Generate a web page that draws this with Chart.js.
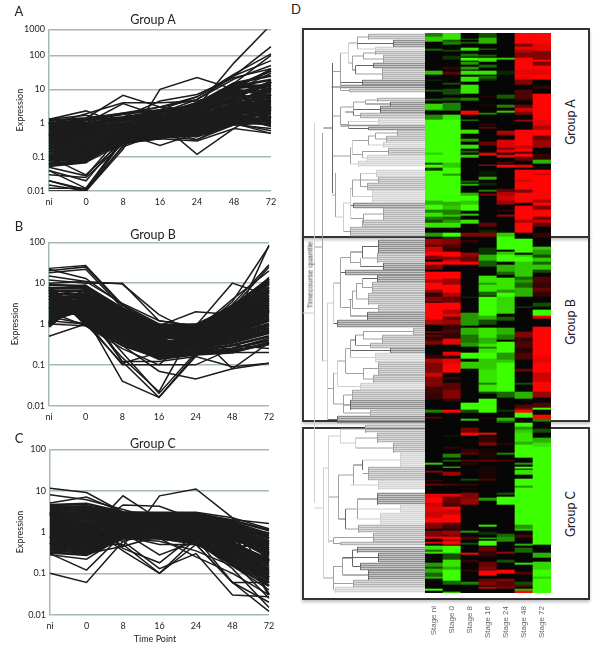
<!DOCTYPE html>
<html lang="en">
<head>
<meta charset="UTF-8">
<title>Expression groups and heatmap</title>
<script src="https://cdn.jsdelivr.net/npm/chart.js"></script>
<style>
    body { margin: 0; background: #fff; }
    #page { position: relative; width: 600px; height: 649px; overflow: hidden; font-family: Lato, sans-serif; color: #222; }
    canvas { position: absolute; }
    .letter { position: absolute; font-size: 13px; line-height: 13px; white-space: nowrap; transform: translate(-50%, -50%); }
    .box { position: absolute; border: 2px solid #333; box-sizing: border-box; box-shadow: 0 2px 3px rgba(0,0,0,0.25); }
    .turned { position: absolute; white-space: nowrap; font-size: 12.5px; transform: translate(-50%, -50%) rotate(-90deg); }
</style>
</head>
<body>
<div id="page">
    <div class="box" style="left:302px;top:28px;width:288px;height:210px"></div>
    <div class="box" style="left:302px;top:236px;width:288px;height:186px"></div>
    <div class="box" style="left:302px;top:427px;width:288px;height:173px"></div>
    <canvas id="chartA" width="290" height="212" style="left:0;top:0"></canvas>
    <canvas id="chartB" width="290" height="200" style="left:0;top:225px"></canvas>
    <canvas id="chartC" width="290" height="214" style="left:0;top:435px"></canvas>
    <canvas id="tree" width="125" height="560" style="left:300px;top:33px"></canvas>
    <canvas id="heat" width="126" height="616" style="left:425px;top:33px"></canvas>
    <div class="letter" style="left:19px;top:11px">A</div>
    <div class="letter" style="left:19px;top:226px">B</div>
    <div class="letter" style="left:19px;top:438px">C</div>
    <div class="letter" style="left:296px;top:9px">D</div>
    <div class="letter" style="left:153px;top:19px;font-size:12.5px">Group A</div>
    <div class="letter" style="left:153px;top:234px;font-size:12.5px">Group B</div>
    <div class="letter" style="left:153px;top:443px;font-size:12.5px">Group C</div>
    <div class="letter" style="left:155px;top:638px;font-size:9px">Time Point</div>
    <div class="turned" style="left:570px;top:122px">Group A</div>
    <div class="turned" style="left:570px;top:322px">Group B</div>
    <div class="turned" style="left:570px;top:514px">Group C</div>
    <div class="turned" style="left:310px;top:275px;font-family:'Liberation Sans';font-size:7.5px;color:#444">Timecourse quantile</div>
</div>

<script>
// time points on the x axis of the three line panels
const timePoints = ['ni', '0', '8', '16', '24', '48', '72'];

// one row per gene: ni, 0, 8, 16, 24, 48, 72. The first rows of each group are the outliers
const groupA = [
    [1.3,1.7,1.1,.8,1.2,3,9],[1.3,2.3,.9,1.3,2,5,18],[.9,1.9,4,4,4.5,9,30],[.5,1.4,6.6,3,2.5,6,15],
    [.7,1,3.8,1.6,1.5,4,12],[.02,.01,.17,10,22,10,40],[.6,.9,1.5,1,.12,.7,3],[.8,.5,.5,.22,.5,1,.6],
    [.1,.03,.3,.35,.3,.7,.5],[.02,.011,.2,.5,.4,1,.5],[.01,.01,.3,.4,.33,.9,.7],[.015,.01,.22,.6,1,1.5,.8],
    [.04,.02,.4,.8,1.5,3,1.2],[.03,.025,.25,.7,.32,1.2,2],[.012,.012,.35,.9,2,5,3],[.04,.012,.3,.6,1,2,1],
    [.05,.028,.5,1,1.5,3,5],[.1,.07,.25,.45,.4,.9,1],[.4,.8,1,1.5,3,60,800],[.6,1,1.3,2.5,6,25,180],
    [.3,.6,.9,2,5,25,70],[.8,1.2,1.8,3,6,28,110],[.5,.7,1,2,4,15,100],[1,1.3,2,3,5,20,50],[.7,.9,1.5,4.5,7,22,40],
    [1.2,1.4,1.9,2.4,3.2,12,19],[1.1,.6,.8,1.3,2.6,9,8],[1,1.2,1.5,2.2,2.8,7,16],[.95,.5,.6,.9,1.4,3,4],
    [.9,1,1.4,2,3.6,14,12],[.85,.4,.5,.7,.9,2,2.2],[.8,.9,1.2,1.7,2.2,5,7],[.75,.35,.45,.6,.7,1.5,1.3],
    [.7,.8,1,1.5,2,4.5,10],[.65,.3,.42,.55,.65,1.3,1.1],[.6,.7,.95,1.3,1.8,6,14],[.55,.25,.38,.5,.6,1.2,.9],
    [.5,.62,.85,1.2,1.6,3.8,6],[.45,.22,.36,.48,.55,1.1,3],[.42,.55,.8,1.1,1.5,3.2,5],[.38,.2,.34,.46,.5,1,1.6],
    [.35,.5,.75,1,1.3,2.8,4.5],[.32,.18,.32,.42,.48,.95,1.2],[.3,.45,.7,.95,1.2,2.5,3.8],[.27,.16,.3,.4,.46,1.05,2.5],
    [.25,.4,.65,.9,1.1,2.2,3.2],[.23,.14,.3,.38,.44,1.4,2],[.21,.36,.6,.85,1,2,2.8],[.19,.12,.28,.37,.5,1.7,7],
    [.17,.33,.55,.8,.95,1.8,2.4],[.15,.11,.27,.36,.6,2.4,11],[.14,.3,.52,.75,.9,1.6,1.9],[.12,.1,.26,.36,.7,2.7,1.5],
    [.11,.27,.48,.7,.85,1.5,17],[.1,.09,.26,.4,.8,3,1.4],[.09,.24,.45,.65,.8,3.5,2.2],[.08,.08,.3,.45,1.2,4,2.6],
    [.075,.2,.42,.6,.75,4.2,3],[.065,.075,.35,.5,1.7,5.5,4.2],[.06,.17,.4,.55,1,6.5,5.5],[.055,.07,.5,.68,1.9,8,9],
    [.5,.15,.65,.8,2.4,10,6.5],[1.05,.13,.9,1.6,3,11,13],[.7,.8,1.3,2,3.5,15,25],[.4,.6,.8,1.6,4,12,35]
];
const groupB = [
    [23,27,3,.6,.5,.9,3],[20,25,2.8,.9,.6,1.5,5],[22,13,3,1,.5,.8,2],[18,22,2.5,.7,.8,1,4],[15,11,3.2,1.2,.9,.7,6],
    [12,10,10,1.2,.9,1.5,8],[10,11,9.5,1.7,.6,.5,1.5],[.5,1,.5,.2,.3,.5,1],[5,2,.12,.016,.18,.6,2],[8,2,.2,.02,.2,.8,3],
    [3,1.5,.04,.016,.16,1,4],[4,1.2,.1,.1,.1,.25,.45],[2,.9,.3,.07,.045,.08,.11],[6,3,.12,.12,.16,.09,.11],
    [1.5,1,.11,.2,.5,.2,.2],[1,.9,.25,.1,.6,.08,.35],[2.5,1.5,.15,.022,.9,.3,.25],[1.2,1,.5,.9,2,1.7,.7],
    [3,4,1.2,.4,.9,10,5],[2,3,.6,.5,.6,3.5,80],[4,5,.9,.4,.3,.9,85],[2.2,2.5,.8,.7,.6,3,28],[5,7,1.5,.5,.4,2.5,25],
    [1.5,2,1,.5,.7,4,20],[7,9,1.8,.8,1,1.5,14],
    [9,8.5,2.4,.95,.95,2.6,13],[8,.95,.3,.15,.2,.25,.4],[7.5,7.5,2.2,.9,.9,2.2,11],[7,1,.35,.16,.22,.3,.5],
    [6.5,6.5,2,.85,.85,2,9.5],[6,1.1,.4,.17,.25,.35,.6],[5.5,5.5,1.9,.8,.8,1.8,8],[5,1.2,.45,.18,.26,.4,.7],
    [4.5,5,1.8,.75,.75,1.6,7],[4.2,1.3,.5,.19,.28,.45,.8],[3.8,4.5,1.7,.7,.7,1.5,6],[3.5,1.4,.55,.2,.3,.5,.9],
    [3.2,4,1.6,.65,.65,1.4,5],[3,1.5,.6,.22,.32,.55,1],[2.8,3.6,1.5,.6,.6,1.3,4.4],[2.6,1.6,.65,.24,.34,.6,1.2],
    [2.4,3.3,1.4,.58,.58,1.2,3.8],[2.2,1.7,.7,.26,.36,.65,1.4],[2.1,3,1.3,.55,.55,1.1,3.4],[2,1.8,.75,.28,.38,.7,1.6],
    [1.9,2.8,1.25,.52,.52,1.05,3],[1.8,1.9,.8,.3,.4,.75,1.8],[1.7,2.6,1.2,.5,.5,1,2.7],[1.6,2,.85,.32,.42,.8,2],
    [1.5,2.4,1.15,.48,.48,.95,2.5],[1.4,2.1,.9,.34,.44,.85,2.2],[1.3,2.2,1.1,.46,.46,.9,2.3],[1.2,2.3,.95,.36,.45,.88,2.1],
    [1.15,2.7,1.05,.44,.7,1.9,4],[1.1,3.1,1,.38,.75,2.1,6.5],[1,3.5,.9,.42,.8,2.4,10],[.95,3.9,.85,.4,.85,2.8,12],
    [.9,4.6,.6,.3,.5,.6,1.3],[.85,5.2,.5,.25,.35,.4,.65],[1.05,6,.42,.15,.2,.22,.32],[2.3,7,.35,.14,.18,.2,.35]
];
const groupC = [
    [11.5,9,3,1.5,1,.8,.4],[8,6,3.5,2,1.5,1,.6],[5,7,3,3,3,2.2,1.2],[.1,.06,.6,1,1.5,.4,.1],[.3,.12,.9,1.5,1,.5,.2],
    [1,.9,7.5,2,2.5,1,.5],[1.5,1,4.5,4.2,2,1,.3],[.8,.3,.45,7.5,11,2.2,.06],[3,2,.45,.8,2,2,1.6],[2,2,.4,.18,.9,.3,.05],
    [2.5,1.5,.35,.1,.5,.06,.06],[1,1,.6,.13,.3,.03,.027],[.9,.5,.5,.1,.7,.06,.012],[.6,.4,1,.28,.6,.13,.015],
    [1.5,1,.8,.5,.5,.06,.02],[4,3,1.5,.7,.25,.1,.03],[.3,.3,.7,.6,.35,.15,.04],[.28,.22,.8,.7,.5,.2,.025],
    [4.5,4.8,3,2.8,2.8,1.9,1.1],[.32,.28,.7,.7,.55,.16,.05],[4,4.2,2.8,2.6,2.6,1.7,.9],[.36,.32,.75,.75,.6,.18,.06],
    [3.6,3.8,2.6,2.4,2.4,1.5,.8],[.4,.36,.8,.8,.65,.2,.07],[3.2,3.4,2.4,2.2,2.2,1.4,.7],[.45,.4,.85,.85,.7,.22,.08],
    [2.9,3,2.3,2.1,2.1,1.3,.6],[.5,.45,.9,.9,.75,.25,.09],[2.6,2.7,2.2,2,2,1.2,.55],[.55,.5,.95,.95,.8,.28,.1],
    [2.4,2.4,2.1,1.9,1.9,1.1,.5],[.6,.55,1,1,.85,.3,.11],[2.2,2.2,2,1.8,1.8,1,.45],[.65,.6,1.05,1.05,.9,.33,.12],
    [2,2,1.9,1.7,1.7,.95,.4],[.7,.65,1.1,1.1,.95,.36,.13],[1.85,1.8,1.8,1.6,1.6,.9,.36],[.75,.7,1.15,1.15,1,.4,.15],
    [1.7,1.65,1.7,1.55,1.5,.85,.32],[.8,.75,1.2,1.2,1.05,.44,.17],[1.6,1.5,1.6,1.5,1.45,.8,.28],[.85,.8,1.25,1.25,1.1,.48,.19],
    [1.5,1.4,1.5,1.45,1.4,.75,.25],[.9,.85,1.3,1.3,1.15,.52,.22],[1.4,1.3,1.45,1.4,1.35,.7,.3],[.95,.9,1.35,1.35,1.2,.56,.2],
    [1.3,1.2,1.4,1.38,1.3,.65,.4],[1,.95,1.38,1.32,1.25,.6,.5],[1.2,1.1,1.2,1.5,1.5,1.6,.7],[1.1,1,1.1,.7,.6,1.3,.9],
    [3,.5,.9,2,2.5,.5,.08],[.5,2.5,2,.9,1.9,.4,.6],[.7,3.5,1,1.8,.8,1,.03],[2.7,.35,1.6,1.2,2.3,1.8,.2]
];

// y ticks. panel A's top gridline sits closer to 100 than one decade in the picture
const ticksA = [0.01, 0.1, 1, 10, 100, 586];
const tickLabelsA = ['0.01', '0.1', '1', '10', '100', '1000'];
const ticksBC = [0.01, 0.1, 1, 10, 100];
const tickLabelsBC = ['0.01', '0.1', '1', '10', '100'];

// heatmap columns as [first row, level]; a run lasts until the next one. +1 red, -1 green, 0 black
const heatStages = ['Stage ni', 'Stage 0', 'Stage 8', 'Stage 16', 'Stage 24', 'Stage 48', 'Stage 72'];
const heatRows = 560;
const stageNi = [[0,-.5],[4,-.8],[9,0],[16,-.4],[18,0],[38,-.75],[42,0],[47,-.2],[48,0],[57,-.35],[59,0],[66,-.35],[68,0],[71,-.85],[77,-.5],[78,0],[82,-.55],[87,-1],[120,-.8],[122,-1],[130,-.3],[132,-1],[135,-.2],[138,-1],[168,-.7],[172,-1],[177,-.5],[180,-.9],[184,-.5],
    [187,-.3],[190,-.9],[195,0],[200,-.6],[204,0],[206,.6],[212,.3],[214,.8],[219,1],[223,.5],[227,0],[229,1],[232,.5],[237,0],[239,1],[247,.7],[250,1],[257,.6],[260,.2],[264,.5],[269,0],[270,1],[287,.7],[292,0],[299,.7],[300,0],[302,.4],[304,.2],[308,.5],[312,0],[322,.2],[326,.7],[330,.5],[340,.8],[344,.5],[354,.25],[360,.2],[367,0],
    [377,-.5],[380,0],[384,.3],[386,0],[430,-.8],[432,0],[438,.5],[440,0],[447,.2],[449,0],[451,.4],[453,0],[461,.9],[465,1],[470,.8],[474,.9],[479,.8],[485,1],[490,.5],[496,0],[498,.5],[504,1],[506,0],[509,.9],[511,0],[513,-.9],[517,-.4],[519,-.9],[521,0],[530,-.6],[534,-.3],[536,-.7],[540,-.4],[544,-.7],[546,0],[556,-1],[558,0]];
const stage0 = [[0,-.9],[7,-.35],[9,-.5],[12,0],[17,-.25],[19,0],[23,-.2],[27,0],[34,.2],[37,0],[39,.35],[42,0],[50,-.3],[52,0],[56,-.3],[62,0],[65,-.3],[68,0],[70,-.5],[78,0],[82,-.9],[87,-1],[130,-.8],[135,-1],[141,-.6],[143,-1],[169,-.7],[173,-.8],[177,-.5],[182,-.8],[184,-.4],
    [187,-.6],[190,-.9],[195,0],[200,-1],[204,-.2],[206,.5],[212,.3],[215,.2],[219,1],[224,.5],[227,.8],[229,1],[232,0],[239,1],[246,.6],[252,1],[260,.7],[264,.4],[270,1],[277,.7],[281,.9],[284,.4],[287,.6],[292,.2],[297,.3],[300,.2],[306,.9],[312,0],[319,.9],[323,.2],[326,.9],[331,1],[340,0],[344,.2],[347,0],[350,.35],[357,.5],[366,.2],[369,0],
    [377,1],[380,0],[403,-.15],[404,0],[414,.2],[416,0],[421,-.5],[425,0],[427,-.35],[429,0],[434,-.9],[435,0],[439,.6],[443,0],[451,.3],[453,0],[461,.9],[464,.4],[470,.3],[474,1],[477,.8],[482,1],[490,.3],[495,.2],[498,.6],[502,.4],[504,1],[507,.5],[508,1],[512,0],[513,-1],[520,-.7],[521,-.3],[527,-.9],[534,-.7],[537,-1],[548,-.4],[552,0],[559,-.8]];
const stage8 = [[0,0],[6,-.4],[7,0],[9,-.35],[11,0],[15,-.9],[18,0],[21,-.45],[24,0],[25,-1],[28,0],[29,-.6],[32,0],[34,-.6],[37,0],[38,-.9],[42,0],[44,-.9],[49,0],[52,-.9],[61,0],[65,-.5],[68,0],[78,1],[82,0],[87,-.6],[88,0],[97,-.9],[101,0],[106,-.6],[109,0],[112,-.9],[116,0],[118,-.4],[120,0],[122,-.8],[125,0],[148,-.4],[150,0],[151,-.7],[153,0],[160,-.7],[163,-1],[168,-.8],[172,-1],[178,0],[181,-.8],[183,0],
    [187,-.9],[191,0],[200,.5],[204,0],[207,.2],[210,0],[220,.6],[224,.4],[229,1],[232,0],[264,-.2],[265,0],[280,-.6],[293,0],[295,-.7],[302,-.45],[310,-.6],[314,0],[320,-1],[326,0],[329,-.8],[336,0],[370,-1],
    [377,-.3],[380,0],[386,-.8],[388,0],[395,.45],[400,1],[403,0],[408,.15],[409,0],[416,.2],[420,.4],[422,0],[427,.35],[429,0],[430,.2],[432,0],[446,-.3],[448,0],[451,.2],[453,0],[455,.1],[457,0],[460,.5],[466,.6],[472,0],[498,-.6],[500,0],[504,.3],[507,0],[510,-.3],[512,0],[520,1],[522,0],[527,.2],[530,0],[537,.2],[539,0],[549,-.5],[552,0]];
const stage16 = [[0,-.3],[5,-.7],[11,0],[16,-.5],[17,0],[22,-.35],[24,0],[25,-.9],[29,0],[32,-.4],[35,0],[38,-.9],[42,0],[43,-.4],[46,-.2],[48,0],[63,.15],[65,0],[72,.2],[73,0],[80,-.5],[82,0],[91,.2],[93,0],[94,.35],[96,0],[109,.4],[113,0],[120,.9],[123,0],[132,.8],[133,0],[138,-.1],[143,0],[144,-.7],[147,0],[150,-.15],[153,0],[157,-.5],[159,0],[161,.5],[163,0],
    [190,.4],[194,0],[197,-.15],[200,.5],[204,0],[215,-.2],[222,-.7],[228,-.35],[234,0],[243,-.9],[250,-.6],[252,-.9],[259,-.4],[263,0],[264,-1],[283,-.7],[287,-.3],[292,0],[295,-.9],[305,-.7],[311,-.9],[314,-.5],[316,-.9],[320,-1],[326,-.8],[337,-.9],[350,-.5],[352,-.9],[359,-.3],[361,0],[366,-1],
    [380,0],[384,.1],[387,0],[400,1],[402,0],[404,.2],[409,.3],[410,.5],[413,0],[416,.1],[427,.4],[429,0],[434,.1],[446,.3],[448,0],[465,-.6],[468,0],[492,-.9],[494,0],[499,-.2],[502,0],[505,-.9],[506,0],[508,-1],[513,0],[514,.4],[519,.2],[524,0],[529,.4],[534,.5],[538,1],[543,0],[546,.4],[549,.5],[553,0],[554,.8],[556,0]];
const stage24 = [[0,0],[25,-.8],[27,0],[38,-.15],[42,0],[62,-.35],[66,0],[72,-.5],[75,0],[78,-.8],[80,0],[98,.7],[102,.4],[103,0],[107,.85],[115,.5],[117,.9],[120,0],[122,.9],[125,0],[129,.3],[131,0],[132,1],[135,0],[156,.35],[159,.7],[163,.8],[168,.6],[172,0],[177,.2],[179,0],[182,.6],[184,0],
    [200,-.8],[204,-1],[217,0],[219,-.8],[222,-1],[229,0],[232,-.7],[239,-.4],[242,0],[245,-.9],[257,-.6],[260,-1],[264,-.85],[281,0],[284,-.35],[288,0],[295,-.7],[302,-.5],[307,0],[309,-1],[320,-.6],[327,-.8],[330,-1],[359,-.4],[365,0],
    [377,-.2],[379,0],[385,-.7],[388,-.4],[390,0],[410,.15],[413,0],[420,-.5],[422,0],[427,.3],[429,0],[460,-.35],[462,0],[464,-1],[472,0],[501,-.4],[504,-.55],[509,0],[519,.6],[521,0],[527,-.3],[530,0],[537,1],[541,0],[546,.5],[549,.35],[554,.5],[556,0]];
const stage48 = [[0,1],[11,.5],[14,.9],[17,.7],[20,.5],[25,1],[37,.9],[42,1],[44,.9],[47,.5],[52,0],[57,.3],[66,.2],[68,0],[72,.4],[75,.8],[79,.5],[82,0],[87,.6],[89,0],[97,1],[113,.8],[116,1],[119,.3],[121,1],[124,.4],[128,0],[132,.9],[135,0],[137,1],[147,.85],[149,1],[157,.5],[160,1],[170,0],[173,1],
    [187,.7],[190,1],[200,0],[206,-1],[220,0],[222,-.8],[224,-1],[229,-.8],[244,-.4],[247,-.6],[250,-.4],[255,-.7],[264,0],[274,-.3],[275,0],[299,.5],[305,.2],[309,.3],[315,.15],[320,.3],[327,0],[336,.4],[339,0],[350,-.3],[352,0],[359,-.7],[366,0],[372,.3],[375,.5],
    [377,1],[380,-1],[385,0],[390,-1],[394,-.6],[397,-.8],[400,-.9],[409,-.7],[412,-1],[425,0],[430,-.6],[432,0],[434,-1],[436,0],[437,-.9],[442,0],[446,-1],[453,-.6],[455,-1],[492,-.6],[496,-.8],[498,0],[502,.3],[505,0],[511,-.7],[513,0],[515,-.4],[520,0],[530,-.9],[532,0],[539,.3],[542,0],[549,-.3],[552,.4],[554,0],[556,-.7],[558,1]];
const stage72 = [[0,1],[11,.9],[18,.5],[27,1],[29,.5],[33,1],[37,.9],[42,1],[47,0],[53,.2],[56,0],[61,1],[87,.9],[93,.7],[97,1],[103,.4],[107,.6],[115,0],[121,.2],[127,-.7],[131,0],[137,1],[141,.7],[142,1],[167,.7],[170,1],[173,.5],[177,1],[184,.4],
    [187,.8],[190,.4],[194,0],[200,.2],[205,0],[214,-.8],[217,-.6],[222,-.3],[225,-.8],[229,-.4],[232,-.8],[237,-.3],[240,0],[244,.3],[250,.2],[255,.4],[259,.2],[264,0],[270,-.3],[274,0],[277,-1],[283,.9],[286,0],[294,1],[324,.9],[330,1],[340,.8],[349,1],[359,.6],[365,0],[370,.3],[375,-1],
    [377,0],[382,1],[386,-.5],[389,0],[396,-.3],[400,0],[405,-.7],[410,-.9],[414,-1],[512,0],[520,-.7],[525,0],[529,-.85],[537,-1],[544,-.8],[546,-1]];
const heatColumns = [stageNi, stage0, stage8, stage16, stage24, stage48, stage72];

// dendrogram: [first row, last row, depth, parent depth, shade]. Clusters also get one leaf every 2 rows
const leafClusters = [
    [1,7,68,57,1],[7,14,93,57,2],[14,18,75,57,0],[18,22,75,63,1],[22,30,83,63,1],[30,35,73,55,2],[35,47,82,55,1],
    [47,52,62,40,2],[52,56,40,31,2],[56,59,49,40,1],[65,69,77,65,1],[69,73,90,65,2],[73,80,80,53,2],[80,85,60,53,1],
    [85,92,78,48,0],[92,94,48,40,2],[94,97,68,48,2],[97,103,97,75,1],[103,109,86,75,1],[109,115,83,68,0],[115,122,88,62,1],
    [122,128,67,62,0],[128,134,58,50,0],[137,144,76,60,0],[144,150,78,60,1],[150,157,67,60,1],[157,170,72,52,0],
    [170,175,53,50,2],[175,187,83,63,1],[187,194,62,63,1],[194,203,50,43,1],
    [207,220,78,62,2],[220,230,77,62,1],[230,237,83,60,2],[237,242,45,40,2],[242,249,77,62,2],[249,260,72,62,1],
    [260,272,68,56,1],[272,279,78,52,1],[279,287,67,50,2],[287,294,37,33,2],[295,302,113,63,1],[302,310,82,63,1],
    [310,315,70,55,1],[315,320,90,50,2],[320,329,75,50,0],[329,342,78,63,1],[342,350,73,63,1],[350,357,60,37,0],
    [357,367,52,43,1],[367,377,50,43,2],[377,383,70,43,1],[383,390,37,27,2],
    [392,400,65,40,1],[400,410,77,55,1],[410,420,93,55,1],[420,434,100,62,0],[434,447,68,62,1],[447,457,78,50,0],
    [460,472,77,57,2],[472,480,100,57,0],[480,492,80,57,0],[492,500,58,45,1],[500,509,73,33,1],[509,512,40,33,1],
    [514,520,57,52,2],[520,529,78,42,2],[530,537,60,52,2],[537,547,68,42,2],[547,554,53,33,1],[554,560,35,33,0]
];
const treeBranches = [
    [4,16,57,48,1],[20,26,63,52,1],[33,41,55,52,2],[23,37,52,48,1],[10,30,48,40,0],[20,57,40,32,1],[67,71,65,53,1],
    [76,82,53,45,2],[69,79,53,40,1],[88,95,48,40,1],[74,92,40,32,1],[100,106,75,68,1],[103,112,68,52,1],[118,125,62,52,1],
    [107,122,52,50,0],[115,131,50,32,1],[140,154,60,52,1],[147,164,52,50,1],[181,190,63,50,1],[155,185,50,43,0],
    [170,198,43,35,0],[140,184,35,32,1],[30,160,32,23,2],
    [213,225,62,50,2],[225,234,60,50,1],[219,230,50,40,1],[246,255,62,56,1],[250,266,56,52,1],[258,275,52,48,1],
    [266,283,50,41,1],[225,275,40,33,1],[250,290,33,27,0],[298,306,63,55,1],[302,312,55,50,2],[307,324,50,45,1],
    [335,346,63,45,1],[316,340,45,37,1],[328,353,37,33,0],[362,380,43,33,1],[340,371,33,27,1],[270,386,27,22,0],
    [100,328,22,14,1],[90,470,14,2,0],
    [405,415,55,40,0],[396,410,40,28,0],[427,437,62,53,2],[432,452,53,38,1],[466,486,57,45,1],[476,496,45,38,2],
    [442,486,38,28,1],[505,511,33,28,1],[403,467,28,23,0],[467,510,28,28,0],[517,533,52,42,2],[525,542,42,33,1],
    [533,557,33,23,1],[435,515,23,14,0],[515,545,23,23,0]
];
// brackets light/mid/dark, then the same three for the leaves
const shadeColors = ['#cfcfcf', '#a0a0a0', '#666666', '#d4d4d4', '#b4b4b4', '#8e8e8e'];

const lineFont = { family: 'Lato, sans-serif', size: 9 };

function linePanel(id, series, outliers, tickValues, tickLabels, geo) {
    new Chart(document.getElementById(id), {
        type: 'line',
        data: {
            labels: timePoints,
            datasets: series.map((row, i) => ({
                data: row, borderColor: '#1c1c1c', borderWidth: i < outliers ? 1.5 : 2.6,
                pointRadius: 0, tension: 0, fill: false
            }))
        },
        options: {
            responsive: false,
            animation: false,
            layout: { autoPadding: false, padding: { top: geo.top, right: 290 - geo.right } },
            plugins: { legend: { display: false }, tooltip: { enabled: false } },
            scales: {
                x: {
                    offset: false,
                    grid: { display: false, drawTicks: false },
                    border: { display: false },
                    ticks: { color: '#222', font: lineFont, maxRotation: 0, autoSkip: false, padding: 6 },
                    afterFit(scale) { scale.height = geo.axisBottom; }
                },
                y: {
                    type: 'logarithmic',
                    min: 0.01,
                    max: tickValues[tickValues.length - 1],
                    afterBuildTicks(scale) { scale.ticks = tickValues.map(v => ({ value: v })); },
                    afterFit(scale) { scale.width = geo.left; },
                    grid: { color: '#a6b8b8', lineWidth: 1.5, drawTicks: false },
                    border: { color: '#a6b8b8', width: 1.5 },
                    ticks: {
                        color: '#222', font: lineFont, padding: 4, autoSkip: false,
                        callback(value, index) { return tickLabels[index]; }
                    },
                    title: {
                        display: true, text: 'Expression', color: '#222', font: lineFont,
                        padding: { top: geo.titleX, bottom: 0 }
                    }
                }
            }
        }
    });
}

linePanel('chartA', groupA, 25, ticksA, tickLabelsA,
    { left: 49, right: 271, top: 29.3, axisBottom: 21, titleX: 15 });
linePanel('chartB', groupB, 25, ticksBC, tickLabelsBC,
    { left: 49, right: 269, top: 17.3, axisBottom: 19.3, titleX: 10 });
linePanel('chartC', groupC, 18, ticksBC, tickLabelsBC,
    { left: 50, right: 269, top: 14.3, axisBottom: 34.3, titleX: 15 });

// heatmap: floating bars, one per run
function heatColor(level) {
    const a = Math.abs(level);
    if (level > 0) return `rgb(${Math.round(255 * a)},4,4)`;
    if (level < 0) return `rgb(${Math.round(60 * a)},${Math.round(255 * a)},0)`;
    return '#060606';
}
const heatBars = [];
const heatBarColors = [];
heatColumns.forEach((runs, col) => {
    runs.forEach((run, i) => {
        const end = i + 1 < runs.length ? runs[i + 1][0] : heatRows;
        heatBars.push({ x: heatStages[col], y: [run[0], end] });
        heatBarColors.push(heatColor(run[1]));
    });
});
new Chart(document.getElementById('heat'), {
    type: 'bar',
    data: {
        labels: heatStages,
        datasets: [{ data: heatBars, backgroundColor: heatBarColors, borderWidth: 0, barThickness: 18 }]
    },
    options: {
        responsive: false,
        animation: false,
        layout: { autoPadding: false },
        plugins: { legend: { display: false }, tooltip: { enabled: false } },
        scales: {
            x: {
                grid: { display: false, drawTicks: false },
                border: { display: false },
                ticks: {
                    color: '#666', font: { family: 'Liberation Sans', size: 8 },
                    minRotation: 90, maxRotation: 90, autoSkip: false, padding: 13
                },
                afterFit(scale) { scale.height = 56; scale.paddingLeft = 0; scale.paddingRight = 0; }
            },
            y: { display: false, reverse: true, min: 0, max: heatRows }
        }
    }
});

// dendrogram: one scatter line per shade, gaps between the segments
const treeSegments = [[], [], [], [], [], []];
function addSegment(shade, x1, y1, x2, y2) {
    treeSegments[shade].push({ x: x1, y: y1 }, { x: x2, y: y2 }, { x: null, y: null });
}
leafClusters.forEach(([r1, r2, depth, parent, shade]) => {
    addSegment(shade, depth + .5, r1 + .5, depth + .5, r2 - .5);
    addSegment(shade, parent + .5, (r1 + r2) / 2, depth + .5, (r1 + r2) / 2);
    for (let r = r1; r < r2; r += 2) addSegment(shade + 3, depth + .5, r + .5, 125, r + .5);
});
treeBranches.forEach(([r1, r2, depth, parent, shade]) => {
    addSegment(shade, depth + .5, r1, depth + .5, r2);
    addSegment(shade, parent + .5, (r1 + r2) / 2, depth + .5, (r1 + r2) / 2);
});
new Chart(document.getElementById('tree'), {
    type: 'scatter',
    data: {
        datasets: treeSegments.map((points, shade) => ({
            data: points, showLine: true, spanGaps: false, pointRadius: 0,
            borderColor: shadeColors[shade], borderWidth: shade > 2 ? 1.4 : 1, tension: 0
        }))
    },
    options: {
        responsive: false,
        animation: false,
        layout: { autoPadding: false },
        plugins: { legend: { display: false }, tooltip: { enabled: false } },
        scales: {
            x: { display: false, min: 0, max: 125 },
            y: { display: false, reverse: true, min: 0, max: heatRows }
        }
    }
});
</script>
</body>
</html>
